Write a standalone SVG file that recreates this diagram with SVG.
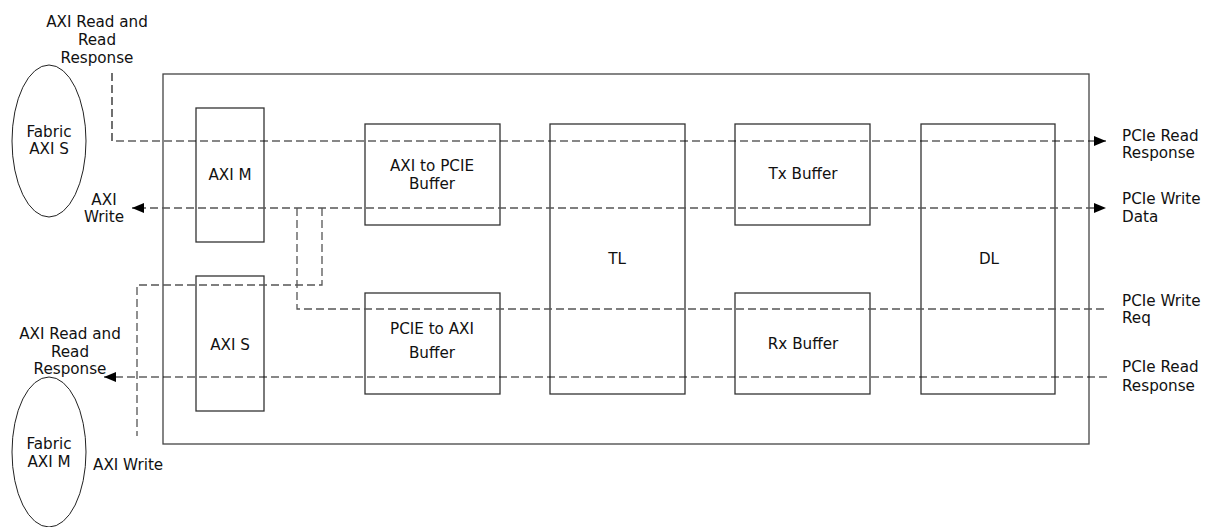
<svg xmlns="http://www.w3.org/2000/svg" width="1207" height="527" viewBox="0 0 1207 527">
<style>
text{font-family:"DejaVu Sans","Verdana",sans-serif;font-size:15.2px;fill:#111;text-anchor:middle}
.lt{text-anchor:start}
.box{fill:none;stroke:#333;stroke-width:1.3}
.outer{fill:none;stroke:#444;stroke-width:1.3}
.ell{fill:none;stroke:#222;stroke-width:1}
.rd{fill:none;stroke:#111;stroke-width:1.2;stroke-dasharray:8 4}
.wr{fill:none;stroke:#555;stroke-width:1.3;stroke-dasharray:8 4}
</style>
<defs>
<marker id="ah" markerWidth="12" markerHeight="10" refX="12" refY="5" orient="auto" markerUnits="userSpaceOnUse">
<path d="M0,0 L12,5 L0,10 Z" fill="#000"/>
</marker>
</defs>
<rect width="1207" height="527" fill="#fff"/>
<g id="outer"><rect class="outer" x="163" y="74" width="926" height="370"/></g>
<g id="fabric-axi-s"><ellipse class="ell" cx="49" cy="141" rx="37" ry="76"/><text x="49" y="137">Fabric</text><text x="49" y="154">AXI S</text></g>
<g id="fabric-axi-m"><ellipse class="ell" cx="49" cy="452" rx="37" ry="75"/><text x="49" y="449">Fabric</text><text x="49" y="467">AXI M</text></g>
<g id="axi-m"><rect class="box" x="196" y="108" width="68" height="134"/><text x="230" y="180">AXI M</text></g>
<g id="axi-s"><rect class="box" x="196" y="276" width="68" height="135"/><text x="230" y="350">AXI S</text></g>
<g id="axi-to-pcie"><rect class="box" x="365" y="124" width="135" height="101"/><text x="432" y="171">AXI to PCIE</text><text x="432" y="189">Buffer</text></g>
<g id="pcie-to-axi"><rect class="box" x="365" y="293" width="135" height="101"/><text x="432" y="334">PCIE to AXI</text><text x="432" y="358">Buffer</text></g>
<g id="tl"><rect class="box" x="550" y="124" width="135" height="270"/><text x="617" y="264">TL</text></g>
<g id="tx"><rect class="box" x="735" y="124" width="135" height="101"/><text x="803" y="179">Tx Buffer</text></g>
<g id="rx"><rect class="box" x="735" y="293" width="135" height="101"/><text x="803" y="349">Rx Buffer</text></g>
<g id="dl"><rect class="box" x="921" y="124" width="134" height="270"/><text x="989" y="264">DL</text></g>
<g id="connectors">
<path class="rd" d="M112,73 V141 H1106" marker-end="url(#ah)"/>
<path class="wr" d="M1094,208 H132" marker-end="url(#ah)"/>
<path d="M1094,208 H1106" stroke="none" marker-end="url(#ah)"/>
<path class="wr" d="M322,208 V285 H137 V436"/>
<path class="wr" d="M297,208 V309 H1107"/>
<path class="rd" d="M1107,377 H104" marker-end="url(#ah)"/>
</g>
<g id="labels">
<text x="97" y="27">AXI Read and</text>
<text x="97" y="45">Read</text>
<text x="97" y="63">Response</text>
<text x="104" y="205">AXI</text>
<text x="104" y="222">Write</text>
<text x="70" y="339">AXI Read and</text>
<text x="70" y="357">Read</text>
<text x="70" y="374">Response</text>
<text class="lt" x="93" y="470">AXI Write</text>
<text class="lt" x="1122" y="141">PCIe Read</text>
<text class="lt" x="1122" y="158">Response</text>
<text class="lt" x="1122" y="204">PCIe Write</text>
<text class="lt" x="1122" y="222">Data</text>
<text class="lt" x="1122" y="306">PCIe Write</text>
<text class="lt" x="1122" y="323">Req</text>
<text class="lt" x="1122" y="372">PCIe Read</text>
<text class="lt" x="1122" y="391">Response</text>
</g>
</svg>
